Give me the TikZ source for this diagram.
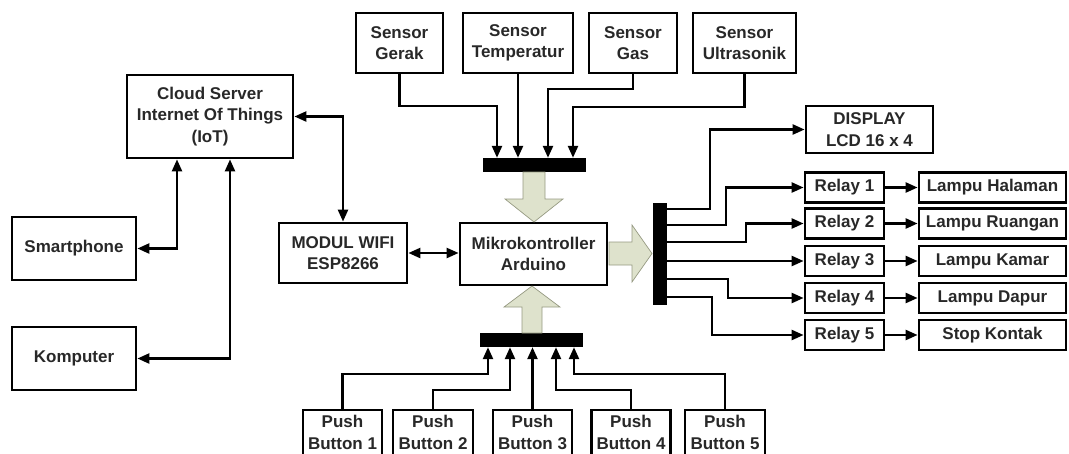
\documentclass[tikz,border=0pt]{standalone}
\usepackage{fontspec}
\setmainfont{Liberation Sans}
\usetikzlibrary{arrows.meta}
\definecolor{fatfill}{RGB}{222,226,204}
\definecolor{fatline}{RGB}{150,154,130}
\definecolor{txt}{RGB}{40,40,40}
\tikzset{
  box/.style={draw=black, line width=2.8pt, fill=white, align=center, inner sep=0pt,
    font=\fontsize{17}{21.5}\selectfont\bfseries, text=txt},
  bar/.style={fill=black, draw=none, inner sep=0pt},
  conn/.style={line width=2.4pt, -{Triangle[length=12pt,width=10pt]}},
  dbl/.style={line width=2.4pt, {Triangle[length=12pt,width=10pt]}-{Triangle[length=12pt,width=10pt]}},
  fat/.style={fill=fatfill, draw=fatline, line width=0.7pt}
}
\begin{document}
\begin{tikzpicture}[x=1pt,y=-1pt]
\useasboundingbox (0,0) rectangle (1069,453);
% boxes
\node[box, minimum width=166, minimum height=83] (cloud) at (210,116.5) {Cloud Server\\Internet Of Things\\(IoT)};
\node[box, minimum width=124, minimum height=63] (smart) at (74,248.5) {Smartphone};
\node[box, minimum width=124, minimum height=63] (komp) at (74,358.5) {Komputer};
\node[box, minimum width=128, minimum height=60] (wifi) at (343,253) {MODUL WIFI\\ESP8266};
\node[box, minimum width=147, minimum height=62] (mikro) at (533.5,254) {Mikrokontroller\\Arduino};
\node[box, minimum width=87, minimum height=60] (gerak) at (399.5,43) {Sensor\\Gerak};
\node[box, minimum width=110, minimum height=60] (temp) at (518,43) {Sensor\\Temperatur};
\node[box, minimum width=88, minimum height=60] (gas) at (633,43) {Sensor\\Gas};
\node[box, minimum width=103, minimum height=60] (ultra) at (744.5,43) {Sensor\\Ultrasonik};
\node[box, minimum width=127, minimum height=47] (display) at (869.5,129.5) {DISPLAY\\LCD 16 x 4};
\node[box, minimum width=79, minimum height=30] (r1) at (844.5,187.5) {Relay 1};
\node[box, minimum width=79, minimum height=30] (r2) at (844.5,223.5) {Relay 2};
\node[box, minimum width=79, minimum height=30] (r3) at (844.5,261) {Relay 3};
\node[box, minimum width=79, minimum height=30] (r4) at (844.5,298) {Relay 4};
\node[box, minimum width=79, minimum height=30] (r5) at (844.5,335) {Relay 5};
\node[box, minimum width=147, minimum height=30] (l1) at (992.5,187.5) {Lampu Halaman};
\node[box, minimum width=147, minimum height=30] (l2) at (992.5,223.5) {Lampu Ruangan};
\node[box, minimum width=147, minimum height=30] (l3) at (992.5,261) {Lampu Kamar};
\node[box, minimum width=147, minimum height=30] (l4) at (992.5,298) {Lampu Dapur};
\node[box, minimum width=147, minimum height=30] (l5) at (992.5,335) {Stop Kontak};
\node[box, minimum width=79, minimum height=45] (pb1) at (342.5,432.5) {Push\\Button 1};
\node[box, minimum width=80, minimum height=45] (pb2) at (433,432.5) {Push\\Button 2};
\node[box, minimum width=79, minimum height=45] (pb3) at (532.5,432.5) {Push\\Button 3};
\node[box, minimum width=79, minimum height=45] (pb4) at (631,432.5) {Push\\Button 4};
\node[box, minimum width=80, minimum height=45] (pb5) at (725,432.5) {Push\\Button 5};
% bars
\node[bar, minimum width=103, minimum height=14] (topbar) at (534.5,165) {};
\node[bar, minimum width=103, minimum height=14] (botbar) at (531.5,340) {};
\node[bar, minimum width=14, minimum height=102] (rbar) at (660,254) {};
% fat arrows
\draw[fat] (523,172) -- (545,172) -- (545,199) -- (563,199) -- (534,222) -- (505,199) -- (523,199) -- cycle;
\draw[fat] (522,333) -- (542,333) -- (542,307) -- (560,307) -- (532,286) -- (504,307) -- (522,307) -- cycle;
\draw[fat] (609,242) -- (632,242) -- (632,225) -- (652,253.5) -- (632,282) -- (632,265) -- (609,265) -- cycle;
% cloud side
\draw[dbl] (smart.east) -| (177,0 |- cloud.south);
\draw[dbl] (komp.east) -| (230,0 |- cloud.south);
\draw[dbl] (cloud.east) -| (wifi.north);
\draw[dbl] (wifi.east) -- (wifi.east -| mikro.west);
% sensors
\draw[conn] (gerak.south) |- (497,106) -- (497,0 |- topbar.north);
\draw[conn] (temp.south) -- (temp.south |- topbar.north);
\draw[conn] (gas.south) |- (548,89) -- (548,0 |- topbar.north);
\draw[conn] (ultra.south) |- (573,107) -- (573,0 |- topbar.north);
% outputs
\draw[conn] (rbar.east |- 0,209) -- (710,209) |- (display.west);
\draw[conn] (rbar.east |- 0,225) -- (726,225) |- (r1.west);
\draw[conn] (rbar.east |- 0,242) -- (746,242) |- (r2.west);
\draw[conn] (rbar.east |- r3.west) -- (r3.west);
\draw[conn] (rbar.east |- 0,279) -- (728,279) |- (r4.west);
\draw[conn] (rbar.east |- 0,297) -- (712,297) |- (r5.west);
\draw[conn] (r1.east) -- (l1.west);
\draw[conn] (r2.east) -- (l2.west);
\draw[conn] (r3.east) -- (l3.west);
\draw[conn] (r4.east) -- (l4.west);
\draw[conn] (r5.east) -- (l5.west);
% push buttons
\draw[conn] (pb1.north) |- (488,374) -- (488,0 |- botbar.south);
\draw[conn] (pb2.north) |- (510,390) -- (510,0 |- botbar.south);
\draw[conn] (pb3.north) -- (pb3.north |- botbar.south);
\draw[conn] (pb4.north) |- (556,390) -- (556,0 |- botbar.south);
\draw[conn] (pb5.north) |- (574,374) -- (574,0 |- botbar.south);
\end{tikzpicture}
\end{document}
